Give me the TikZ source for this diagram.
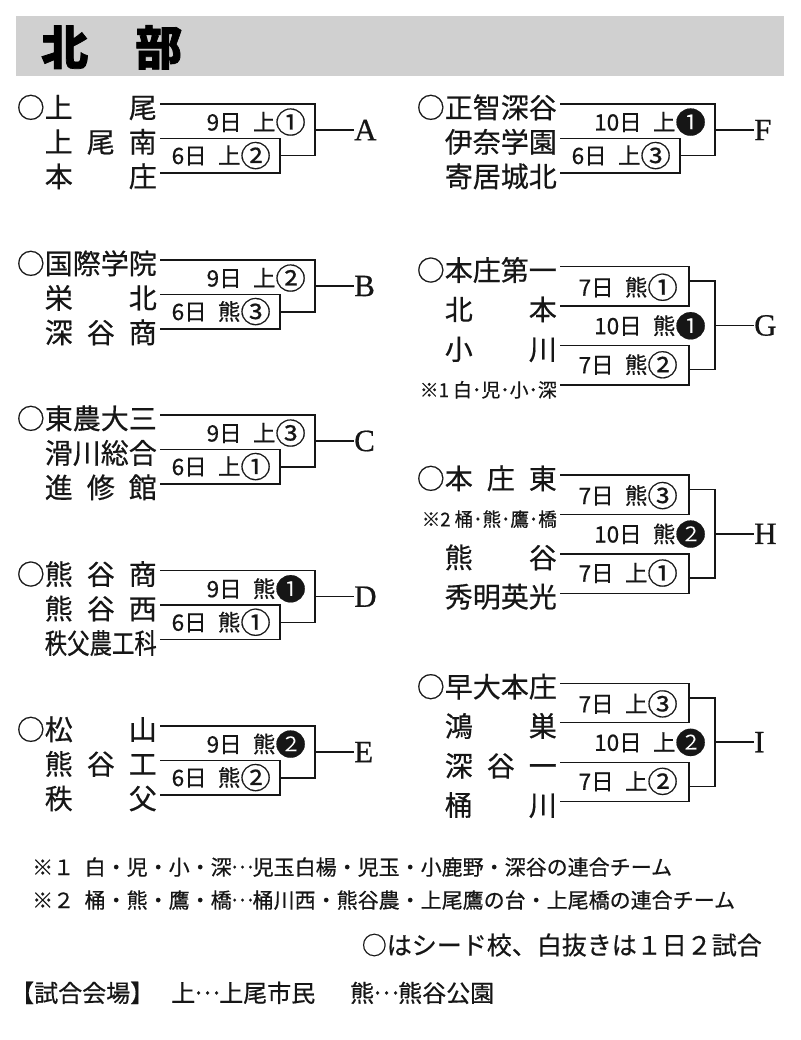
\documentclass[tikz,border=0pt]{standalone}
\usepackage{fontspec}
\usepackage{graphicx}
\setmainfont{Noto Sans CJK JP}[BoldFeatures={FakeBold=1.5}]
\newfontfamily\jpm{Noto Sans CJK JP}[FakeBold=0.5]
\newfontfamily\serifletter{Liberation Serif}[FakeBold=0.6]
\definecolor{hdr}{RGB}{208,208,208}
\definecolor{ink}{RGB}{22,22,22}
\newcommand\jus[1]{\makebox[112pt][s]{#1}}
\newcommand\sq[1]{\resizebox{112pt}{\height}{#1}}
\newcommand\gp{\hspace{0.5em}}
\newcommand\cn[1]{\raisebox{-0.12em}{\scalebox{1.35}[1.3]{#1}}}
\newcommand\dl{\makebox[1em][c]{\raisebox{0.32em}{…}}}
\newcommand\smallteam[2]{\raisebox{2pt}{\fontsize{19}{19}\selectfont\resizebox{#1}{\height}{#2}}}
\tikzset{
  br/.style={line width=1.5pt, ink},
  tname/.style={inner sep=0pt, text=ink, font=\fontsize{28}{28}\jpm, anchor=base east},
  lab/.style={inner sep=0pt, text=ink, font=\fontsize{22.5}{22.5}\jpm, anchor=base east},
  rlet/.style={inner sep=0pt, text=ink, font=\fontsize{31}{31}\serifletter, anchor=west},
  fnote/.style={inner sep=0pt, text=ink, font=\fontsize{21}{21}\jpm, anchor=base west},
  fbig/.style={inner sep=0pt, text=ink, font=\fontsize{24}{24}\jpm, anchor=base west},
}
\newcommand\brthree[8]{%
  \coordinate (#1s1) at (160+#2, #3);
  \coordinate (#1s2) at (160+#2, #3+34.5);
  \coordinate (#1s3) at (160+#2, #3+69);
  \coordinate (#1b) at (280+#2, #3+51.75);
  \coordinate (#1w) at (315+#2, #3+26);
  \node[tname] (#1n1) at (157+#2, #3+14) {#4};
  \node[tname] (#1n2) at (157+#2, #3+48.5) {#5};
  \node[tname] (#1n3) at (157+#2, #3+83) {#6};
  \node[rlet] (#1L) at (354+#2, #3+26) {#1};
  \node[lab] (#1l1) at (306+#2, #3+26.5) {#7};
  \node[lab] (#1l2) at (271+#2, #3+60) {#8};
  \draw[br] (#1s2) -| (#1b) |- (#1s3);
  \draw[br] (#1s1) -| (#1b -| #1w) -- (#1b);
  \draw[br] (#1w) -- (#1L.west);
}
\newcommand\brfour[9]{%
  \coordinate (#1s1) at (560, #2);
  \coordinate (#1s2) at (560, #2+39.3);
  \coordinate (#1s3) at (560, #2+79);
  \coordinate (#1s4) at (560, #2+118.3);
  \coordinate (#1b1) at (689, #2+14.5);
  \coordinate (#1b2) at (689, #2+103);
  \coordinate (#1w) at (715, #2+58.8);
  \node[tname] (#1n1) at (557, #2+14) {#3};
  \node[tname] (#1n2) at (557, #2+53.3) {#4};
  \node[tname] (#1n3) at (557, #2+93) {#5};
  \node[tname] (#1n4) at (557, #2+132.3) {#6};
  \node[rlet] (#1L) at (754, #2+58.8) {#1};
  \node[lab] (#1l1) at (678, #2+29) {#7};
  \node[lab] (#1l2) at (706, #2+67.5) {#8};
  \node[lab] (#1l3) at (678, #2+106.5) {#9};
  \draw[br] (#1s1) -| (#1b1) |- (#1s2);
  \draw[br] (#1s3) -| (#1b2) |- (#1s4);
  \draw[br] (#1b1) -| (#1b2 -| #1w) -- (#1b2);
  \draw[br] (#1w) -- (#1L.west);
}
\begin{document}
\begin{tikzpicture}[x=1pt, y=-1pt]
\useasboundingbox (0,0) rectangle (800,1040);
\fill[white] (0,0) rectangle (800,1040);
\fill[hdr] (16,16) rectangle (784,76);
\node[inner sep=0pt, anchor=base west, text=black, font=\fontsize{47}{47}\selectfont\bfseries] (title) at (41,65) {北\hspace{1em}部};

\brthree{A}{0}{104}{○\jus{上\hfill 尾}}{\jus{上\hfill 尾\hfill 南}}{\jus{本\hfill 庄}}{9日\gp 上\cn{①}}{6日\gp 上\cn{②}}
\brthree{B}{0}{260}{○国際学院}{\jus{栄\hfill 北}}{\jus{深\hfill 谷\hfill 商}}{9日\gp 上\cn{②}}{6日\gp 熊\cn{③}}
\brthree{C}{0}{415}{○東農大三}{滑川総合}{\jus{進\hfill 修\hfill 館}}{9日\gp 上\cn{③}}{6日\gp 上\cn{①}}
\brthree{D}{0}{570.7}{○\jus{熊\hfill 谷\hfill 商}}{\jus{熊\hfill 谷\hfill 西}}{\sq{秩父農工科}}{9日\gp 熊\cn{❶}}{6日\gp 熊\cn{①}}
\brthree{E}{0}{726}{○\jus{松\hfill 山}}{\jus{熊\hfill 谷\hfill 工}}{\jus{秩\hfill 父}}{9日\gp 熊\cn{❷}}{6日\gp 熊\cn{②}}
\brthree{F}{400}{104}{○正智深谷}{伊奈学園}{寄居城北}{10日\gp 上\cn{❶}}{6日\gp 上\cn{③}}

\brfour{G}{266.7}{○本庄第一}{\jus{北\hfill 本}}{\jus{小\hfill 川}}{\smallteam{137pt}{※1 白･児･小･深}}{7日\gp 熊\cn{①}}{10日\gp 熊\cn{❶}}{7日\gp 熊\cn{②}}
\brfour{H}{475}{○\jus{本\hfill 庄\hfill 東}}{\smallteam{135pt}{※2 桶･熊･鷹･橋}}{\jus{熊\hfill 谷}}{秀明英光}{7日\gp 熊\cn{③}}{10日\gp 熊\cn{❷}}{7日\gp 上\cn{①}}
\brfour{I}{683.3}{○早大本庄}{\jus{鴻\hfill 巣}}{\jus{深\hfill 谷\hfill 一}}{\jus{桶\hfill 川}}{7日\gp 上\cn{③}}{10日\gp 上\cn{❷}}{7日\gp 上\cn{②}}

\node[fnote] (note1) at (32,875) {※１\hspace{0.5em}白・児・小・深\dl 児玉白楊・児玉・小鹿野・深谷の連合チーム};
\node[fnote] (note2) at (32,908) {※２\hspace{0.5em}桶・熊・鷹・橋\dl 桶川西・熊谷農・上尾鷹の台・上尾橋の連合チーム};
\node[inner sep=0pt, text=ink, font=\fontsize{25}{25}\jpm, anchor=base east] (note3) at (762,954.5) {○はシード校、白抜きは１日２試合};
\node[fbig] (venue) at (10,1002) {【試合会場】};
\node[fbig] (venue1) at (171,1002) {上\dl 上尾市民};
\node[fbig] (venue2) at (350,1002) {熊\dl 熊谷公園};
\end{tikzpicture}
\end{document}
